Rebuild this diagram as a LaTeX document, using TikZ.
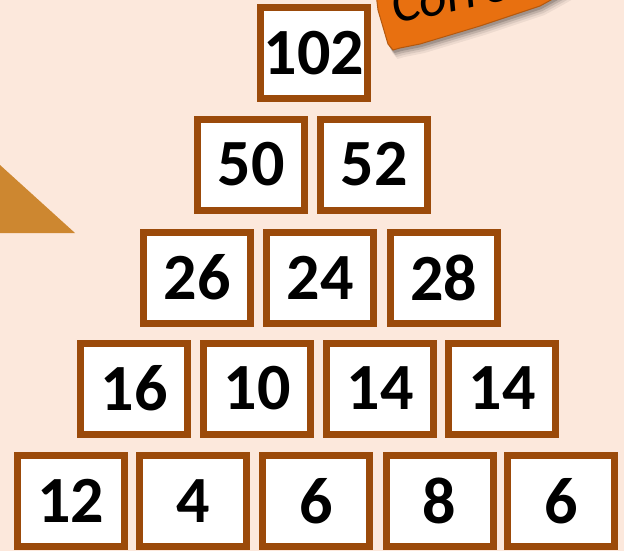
\documentclass[tikz,border=0pt]{standalone}
\usepackage{fontspec}
\setmainfont{Carlito}
\definecolor{bgpeach}{RGB}{252,232,220}
\definecolor{boxbrown}{RGB}{155,74,10}
\definecolor{tagorange}{RGB}{232,112,16}
\definecolor{tagedge}{RGB}{180,88,14}
\definecolor{triorange}{RGB}{205,135,48}
\tikzset{
  numbox/.style={draw=boxbrown, line width=7pt, fill=white, minimum width=107pt, minimum height=91pt, inner sep=0pt, font=\fontsize{66}{66}\selectfont\bfseries, text=black},
}
\begin{document}
\begin{tikzpicture}[x=1pt,y=-1pt]
\fill[bgpeach] (0,0) rectangle (624,551);
\useasboundingbox (0,0) rectangle (624,551);
\begin{scope}
\clip (0,0) rectangle (624,551);
% left triangle
\fill[triorange] (0,165) -- (75,233) -- (0,233) -- cycle;
% tag shadow
\foreach \o/\a in {9/0.06,7/0.08,5/0.12,3/0.16}{
  \fill[black, opacity=\a, shift={(0.5*\o,\o)}] (372,-40) -- (378,10) -- (388,44) -- (393,50) -- (400,48) -- (420,44) -- (480,26) -- (540,6) -- (560,-5) -- (620,-40) -- cycle;
}
% tag
\fill[tagorange, draw=tagedge, line width=1pt] (372,-40) -- (378,10) -- (388,44) -- (393,50) -- (400,48) -- (420,44) -- (480,26) -- (540,6) -- (560,-5) -- (620,-40) -- cycle;
\node[rotate=12, font=\fontsize{54}{54}\selectfont\itshape, text=black, anchor=base west, inner sep=0pt] (tag) at (395,24) {Correct};
\end{scope}
% pyramid
\node[numbox] (r1a) at (314,53) {102};
\node[numbox] (r2a) at (251,164.5) {50};
\node[numbox] (r2b) at (374,164.5) {52};
\node[numbox] (r3a) at (197,277.5) {26};
\node[numbox] (r3b) at (320,277.5) {24};
\node[numbox] (r3c) at (443.5,277.5) {28};
\node[numbox] (r4a) at (134,388.5) {16};
\node[numbox] (r4b) at (257,388.5) {10};
\node[numbox] (r4c) at (380,388.5) {14};
\node[numbox] (r4d) at (502,388.5) {14};
\node[numbox] (r5a) at (70.5,501) {12};
\node[numbox] (r5b) at (193,501) {4};
\node[numbox] (r5c) at (316,501) {6};
\node[numbox] (r5d) at (439.5,501) {8};
\node[numbox] (r5e) at (561,501) {6};
\end{tikzpicture}
\end{document}
